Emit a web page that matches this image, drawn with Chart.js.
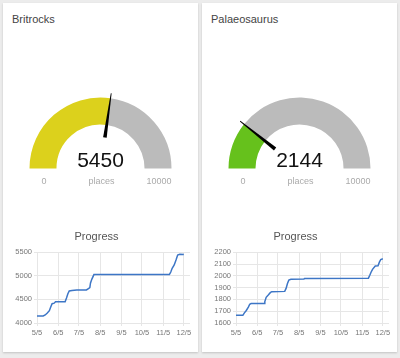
<!DOCTYPE html>
<html>
<head>
<meta charset="utf-8">
<script src="https://cdn.jsdelivr.net/npm/chart.js@4.4.1/dist/chart.umd.min.js"></script>
<style>
  body { margin: 0; background: #ececec; font-family: "Liberation Sans", Arial, sans-serif; }
  .card { position: absolute; top: 3px; width: 195px; height: 349px; background: #fff; box-shadow: 0 1px 2px rgba(0,0,0,0.18); }
  .title { position: absolute; left: 9px; top: 11px; font-size: 11px; line-height: 11px; color: #444; }
  .gauge { position: absolute; left: 0; top: 60px; width: 195px; height: 140px; }
  .value { position: absolute; left: 0; width: 195px; top: 146px; text-align: center; font-size: 21px; line-height: 21px; color: #111; }
  .lbl { position: absolute; top: 173px; width: 60px; text-align: center; font-size: 9px; line-height: 10px; color: #aaa; }
  .progress { position: absolute; left: 0; top: 222px; width: 195px; height: 114px; }
</style>
</head>
<body>

<div class="card" id="card0" style="left:3px"></div>
<div class="card" id="card1" style="left:202px"></div>

<script>
/* Gauge data */
let gaugeNames = ['Britrocks', 'Palaeosaurus'];
let gaugeValues = [5450, 2144];
let gaugeMin = 0;
let gaugeMax = 10000;
let gaugeUnit = 'places';
let gaugeColors = ['#dcd11c', '#66c11c'];

/* Progress x axis: days counted from 5/5 */
let tickDays = [0, 31, 61, 92, 123, 153, 184, 214];
let tickLabels = ['5/5', '6/5', '7/5', '8/5', '9/5', '10/5', '11/5', '12/5'];

/* Britrocks progress */
let britDays = [0, 9, 12, 15, 18, 20, 22, 25, 27, 41, 43, 45, 47, 51, 58, 72, 75, 77, 78, 80, 83, 193, 195, 197, 200, 203, 205, 208, 214];
let britValues = [4150, 4150, 4170, 4210, 4260, 4340, 4410, 4420, 4450, 4450, 4530, 4620, 4680, 4690, 4700, 4700, 4730, 4750, 4850, 4930, 5025, 5030, 5080, 5160, 5230, 5350, 5440, 5455, 5450];

/* Palaeosaurus progress */
let palDays = [0, 10, 12, 15, 18, 20, 22, 41, 42, 44, 47, 50, 52, 71, 73, 75, 77, 80, 99, 100, 193, 195, 197, 199, 203, 207, 209, 211, 214];
let palValues = [1665, 1665, 1684, 1706, 1734, 1759, 1765, 1765, 1781, 1818, 1837, 1857, 1865, 1868, 1893, 1935, 1963, 1970, 1972, 1978, 1980, 2005, 2032, 2055, 2083, 2085, 2116, 2138, 2144];

/* y axis ranges for each progress chart */
let yMins = [4000, 1600];
let yMaxs = [5500, 2200];
let ySteps = [500, 100];

let progressDays = [britDays, palDays];
let progressValues = [britValues, palValues];

const fontFamily = '"Liberation Sans", Arial, sans-serif';

/* draws the black needle of a gauge */
const needlePlugin = {
    id: 'needle',
    afterDatasetsDraw(chart, args, opts) {
        let arc = chart.getDatasetMeta(0).data[0];
        let ctx = chart.ctx;
        let R = arc.outerRadius;
        let frac = (opts.value - gaugeMin) / (gaugeMax - gaugeMin);
        let a = Math.PI + frac * Math.PI;
        let dx = Math.cos(a), dy = Math.sin(a);
        let nx = -dy, ny = dx;
        let r0 = R * 0.44, r1 = R + 5;
        let bx = arc.x + dx * r0, by = arc.y + dy * r0;
        let tx = arc.x + dx * r1, ty = arc.y + dy * r1;
        ctx.save();
        ctx.fillStyle = '#000';
        ctx.beginPath();
        ctx.moveTo(bx + nx * 1.8, by + ny * 1.8);
        ctx.lineTo(tx + nx * 0.4, ty + ny * 0.4);
        ctx.lineTo(tx - nx * 0.4, ty - ny * 0.4);
        ctx.lineTo(bx - nx * 1.8, by - ny * 1.8);
        ctx.closePath();
        ctx.fill();
        ctx.restore();
    }
};

function buildCard(i){
    let card = document.getElementById('card' + i);
    card.innerHTML = `
        <div class="title">${gaugeNames[i]}</div>
        <div class="gauge"><canvas id="gauge${i}"></canvas></div>
        <div class="value">${gaugeValues[i]}</div>
        <div class="lbl" style="left:11px">${gaugeMin}</div>
        <div class="lbl" style="left:68.5px">${gaugeUnit}</div>
        <div class="lbl" style="left:126px">${gaugeMax}</div>
        <div class="progress"><canvas id="progress${i}"></canvas></div>`;

    /* gauge as a half doughnut */
    new Chart(document.getElementById('gauge' + i).getContext('2d'), {
        type: 'doughnut',
        data: {
            datasets: [{
                data: [gaugeValues[i] - gaugeMin, gaugeMax - gaugeValues[i]],
                backgroundColor: [gaugeColors[i], '#bbbbbb'],
                borderWidth: 0
            }]
        },
        options: {
            responsive: true,
            maintainAspectRatio: false,
            animation: false,
            events: [],
            circumference: 180,
            rotation: -90,
            cutout: '62%',
            radius: 71,
            plugins: {
                legend: { display: false },
                tooltip: { enabled: false },
                needle: { value: gaugeValues[i] }
            }
        },
        plugins: [needlePlugin]
    });

    //points for the progress line
    let points = [];
    for(let k = 0; k < progressDays[i].length; k++){
        points.push({ x: progressDays[i][k], y: progressValues[i][k] });
    }

    let tickFont = { family: fontFamily, size: 7.5 };

    new Chart(document.getElementById('progress' + i).getContext('2d'), {
        type: 'line',
        data: {
            datasets: [{
                data: points,
                borderColor: '#3d76c6',
                borderWidth: 1.5,
                pointRadius: 0,
                tension: 0,
                fill: false
            }]
        },
        options: {
            responsive: true,
            maintainAspectRatio: false,
            animation: false,
            events: [],
            layout: { padding: { left: 0, right: 8, top: 0, bottom: 0 } },
            plugins: {
                legend: { display: false },
                tooltip: { enabled: false },
                title: {
                    display: true,
                    text: 'Progress',
                    color: '#555',
                    font: { family: fontFamily, size: 11, weight: 'normal' },
                    padding: { top: 5, bottom: 9 }
                }
            },
            scales: {
                x: {
                    type: 'linear',
                    min: 0,
                    max: 223,
                    afterBuildTicks: scale => { scale.ticks = tickDays.map(v => ({ value: v })); },
                    ticks: {
                        callback: (v, idx) => tickLabels[idx],
                        font: tickFont,
                        color: '#777',
                        padding: 2,
                        maxRotation: 0,
                        autoSkip: false
                    },
                    grid: { color: '#e6e6e6', tickLength: 3 },
                    border: { display: false }
                },
                y: {
                    min: yMins[i],
                    max: yMaxs[i],
                    afterFit: scale => { scale.width = 34; },
                    ticks: {
                        stepSize: ySteps[i],
                        callback: v => String(v),
                        font: tickFont,
                        color: '#777',
                        padding: 2,
                        autoSkip: false
                    },
                    grid: { color: '#e6e6e6', tickLength: 3 },
                    border: { display: false }
                }
            }
        }
    });
}

buildCard(0);
buildCard(1);
</script>
</body>
</html>
